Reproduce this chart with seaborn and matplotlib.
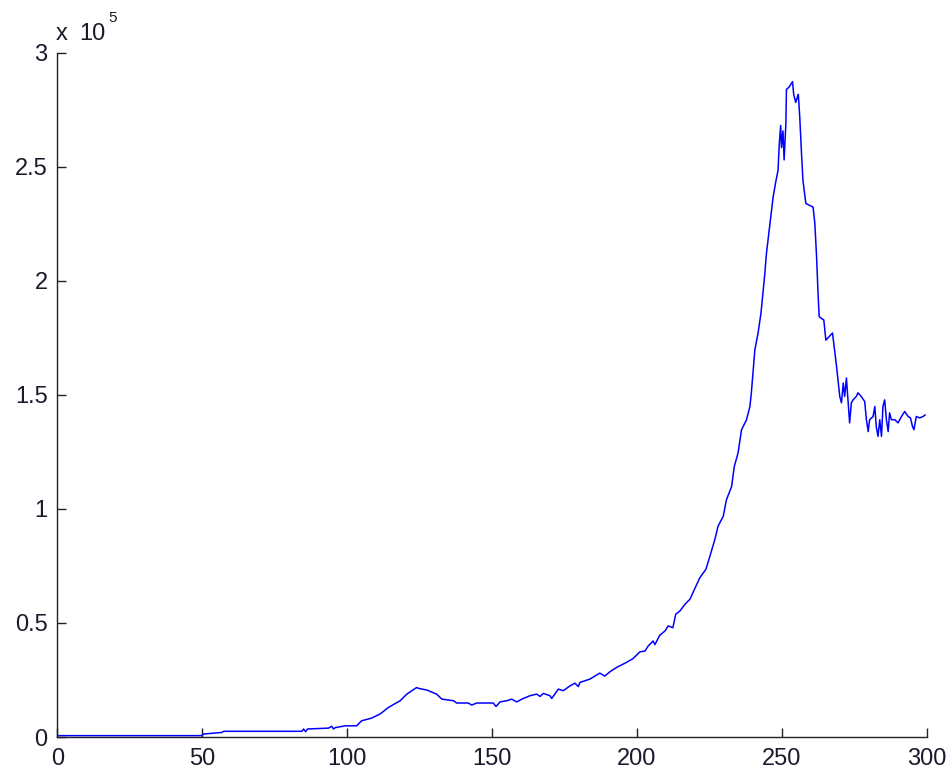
import matplotlib
matplotlib.use("Agg")
import matplotlib.pyplot as plt
import seaborn as sns
import pandas as pd
from matplotlib.ticker import FuncFormatter

# valores (x = indice, y = conteo)
x_vals = [0, 10, 20, 30, 40, 49.9, 50.4, 56.8, 57.4, 70, 84.4, 85, 85.7, 86.3,
          93.6, 94.7, 95.3, 95.9, 99.3, 103.3, 105, 108.5, 111.4, 114.3, 118.3,
          120.6, 124, 124.7, 127.5, 130.9, 132.7, 136.7, 137.8, 141.8, 143,
          144.7, 150.4, 151.4, 152.8, 155.1, 156.8, 158.5, 160.8, 163.1, 165.4,
          166.6, 167.7, 170, 170.6, 172.9, 174.6, 176.9, 178.6, 179.8, 180.3,
          183.8, 187.2, 188.9, 190.7, 193, 196.4, 198.7, 201, 202.8, 203.9,
          205.6, 206.2, 207.9, 209.7, 210.8, 212.4, 213.4, 214.8, 216.6, 218.3,
          221.7, 223.8, 225.2, 226.9, 228, 229.8, 230.9, 232.7, 233.6, 234.9,
          236.1, 237.8, 239, 239.5, 240.7, 241.8, 242.8, 243.3, 244.1, 244.7,
          245.5, 246.2, 247, 247.9, 248.7, 249.1, 249.6, 249.9, 250.4, 250.8,
          251.4, 251.6, 252.5, 253.7, 254.1, 254.8, 255.3, 255.7, 256.2, 256.8,
          257.3, 258.3, 260.8, 261.4, 262, 262.5, 262.9, 264.5, 265.2, 267.5,
          268.3, 268.9, 269.4, 270, 270.6, 271.2, 271.7, 272.3, 272.9, 273.4,
          274, 274.6, 275.7, 276.3, 277.4, 278.6, 279.2, 279.8, 280.3, 281.5,
          282.1, 282.6, 283.2, 283.8, 284.4, 284.9, 285.5, 286.1, 286.7, 287.2,
          287.8, 289, 290.1, 291.3, 292.4, 293.6, 294.4, 295.1, 295.6, 296.4,
          297.6, 298.7, 299.5]

y_vals = [600, 600, 600, 600, 600, 600, 1300, 2000, 2500, 2500, 2500, 3500, 2300, 3500,
          3900, 4700, 3500, 4100, 4900, 4900, 7100, 8300, 10100, 13000, 15900,
          18800, 21700, 21300, 20600, 18800, 16600, 15900, 14900, 14900, 14000,
          14900, 14900, 13400, 15400, 15900, 16600, 15400, 16900, 18100, 18800,
          17800, 19100, 18100, 16900, 21000, 20300, 22400, 23600, 22100, 23900,
          25400, 28000, 26700, 28600, 30500, 32700, 34400, 37300, 37700, 39900,
          42100, 40500, 44600, 46500, 48700, 47900, 53800, 55200, 58200, 60400,
          69800, 73500, 79300, 86600, 92400, 96800, 104000, 109900, 118600, 124500,
          134700, 139000, 144900, 151000, 169700, 177000, 185700, 192300, 202500, 212000,
          220700, 228700, 236700, 243300, 248400, 259300, 268100, 258400, 265700, 253000,
          268600, 283900, 284900, 287300, 281700, 278200, 280300, 281700, 271700, 255800,
          244000, 233900, 232300, 225200, 210500, 194600, 184200, 182800, 174000, 177100,
          168900, 162400, 156600, 149300, 146500, 155200, 149300, 157400, 146500, 137700,
          146500, 147800, 149300, 150900, 149300, 147100, 139100, 133900, 139100, 140500,
          144900, 136100, 131800, 139100, 131800, 144900, 147800, 139100, 133900, 142100,
          139100, 139100, 137700, 140500, 142700, 140500, 139900, 136100, 134700, 140500,
          139900, 140500, 141200]

x_ticks = [0, 50, 100, 150, 200, 250, 300]
y_ticks = [0, 50000, 100000, 150000, 200000, 250000, 300000]

df = pd.DataFrame({"x": x_vals, "y": y_vals})

sns.set_style("ticks")
plt.rcParams["font.family"] = ["Liberation Sans", "DejaVu Sans"]

fig = plt.figure(figsize=(9.52, 7.76), dpi=100)
ax = fig.add_axes([57.3 / 952, 39 / 776, 869.4 / 952, 684.3 / 776])

sns.lineplot(data=df, x="x", y="y", color="#0000ff", linewidth=1.1,
             estimator=None, sort=False, ax=ax)

ax.set_xlim(0, 300)
ax.set_ylim(0, 300000)
ax.set_xticks(x_ticks)
ax.set_yticks(y_ticks)
ax.yaxis.set_major_formatter(FuncFormatter(lambda v, _: f"{v / 1e5:g}"))
ax.set_xlabel("")
ax.set_ylabel("")
ax.tick_params(direction="in", length=6.5, width=1, colors="#222222",
               labelsize=17, labelcolor="#1a1a2a")
ax.tick_params(axis="x", pad=8)
ax.tick_params(axis="y", pad=7)
sns.despine(ax=ax)
for s in ["left", "bottom"]:
    ax.spines[s].set_color("#222222")
    ax.spines[s].set_linewidth(1)

# factor de escala estilo MATLAB
fig.text(56 / 952, 1 - 40 / 776, "x", fontsize=17, color="#1a1a2a")
fig.text(79 / 952, 1 - 40 / 776, "10", fontsize=17, color="#1a1a2a")
fig.text(108 / 952, 1 - 22 / 776, "5", fontsize=11, color="#1a1a2a")

fig.savefig("out.png", dpi=100)
